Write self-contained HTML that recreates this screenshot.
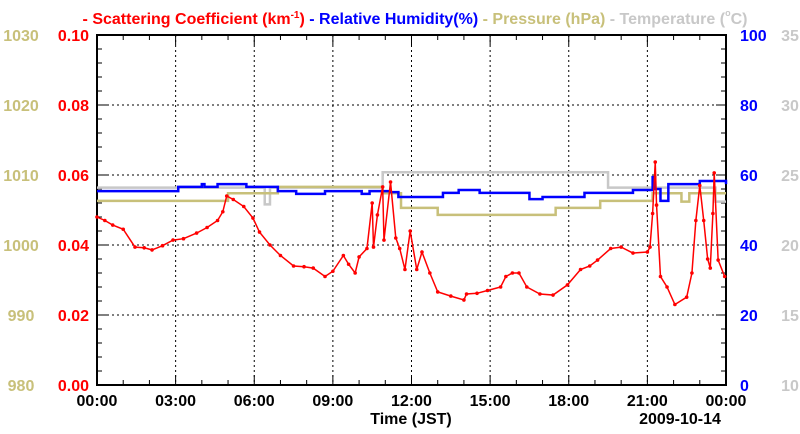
<!DOCTYPE html>
<html><head><meta charset="utf-8"><style>
body{margin:0;background:#fff}
svg{display:block;font-family:"Liberation Sans",sans-serif;font-weight:bold}
</style></head><body>
<svg id="c" width="800" height="434" viewBox="0 0 800 434"></svg>
<script>
const xTicks=["00:00","03:00","06:00","09:00","12:00","15:00","18:00","21:00","00:00"];
const scatHours=[0,0.3,0.6,1.0,1.45,1.8,2.1,2.5,2.9,3.3,3.8,4.2,4.6,4.8,4.95,5.2,5.6,5.95,6.2,6.6,7.0,7.5,7.9,8.25,8.7,9.0,9.4,9.6,9.85,10.0,10.3,10.5,10.55,10.7,10.9,10.95,11.2,11.4,11.55,11.75,11.95,12.2,12.4,12.7,13.0,13.5,14.0,14.1,14.5,14.9,15.4,15.6,15.85,16.1,16.4,16.9,17.4,17.95,18.45,18.8,19.1,19.6,20.0,20.45,21.0,21.1,21.2,21.3,21.35,21.5,21.75,22.05,22.5,22.7,22.85,23.0,23.15,23.3,23.4,23.5,23.55,23.7,23.95];
const scatValues=[0.048,0.047,0.0457,0.0445,0.0394,0.0392,0.0386,0.0398,0.0414,0.0418,0.0434,0.045,0.047,0.0495,0.054,0.053,0.051,0.0477,0.0437,0.040,0.037,0.034,0.0338,0.0334,0.031,0.0325,0.037,0.0345,0.032,0.0366,0.039,0.052,0.0394,0.0486,0.0566,0.0414,0.058,0.042,0.039,0.033,0.044,0.033,0.038,0.032,0.0266,0.0254,0.0243,0.026,0.0262,0.027,0.028,0.031,0.032,0.032,0.028,0.026,0.0257,0.0286,0.033,0.034,0.0357,0.039,0.0394,0.0377,0.038,0.0394,0.049,0.0637,0.0514,0.031,0.028,0.023,0.0251,0.032,0.047,0.057,0.047,0.036,0.0334,0.049,0.0606,0.0357,0.031];
const rhHours=[0,3.1,4.0,4.1,4.6,5.7,6.9,7.6,8.7,10.1,10.4,11.2,11.5,13.2,13.8,14.6,16.5,17.0,18.6,20.45,21.2,21.3,21.5,21.8,23.0,24];
const rhValues=[55.4,56.6,57.4,56.6,57.4,56.6,55.4,54.6,55.4,54.6,55.4,55.1,53.7,54.9,55.7,54.9,53.1,53.7,54.9,55.7,59.4,56,52.6,57.4,58.3,57.4];
const presHours=[0,5.0,6.9,10.9,11.6,13.0,17.5,19.2,21.2,22.3,22.6,24];
const presValues=[1006.3,1007.4,1008.3,1007.4,1005.3,1004.3,1005.3,1006.3,1007.4,1006.2,1007.4,1007.4];
const tempHours=[0,6.4,6.6,10.9,19.5,23.6,24];
const tempValues=[24.1,22.9,24.1,25.2,24.1,23.1,23.1];
const yTicks=["0.00","0.02","0.04","0.06","0.08","0.10"];
const presTicks=["980","990","1000","1010","1020","1030"];
const rhTicks=["0","20","40","60","80","100"];
const tempTicks=["10","15","20","25","30","35"];

const L=97,R=726,T=35,B=385,NS="http://www.w3.org/2000/svg",svg=document.getElementById('c');
const X=h=>L+h/24*(R-L);
const Ys=v=>B-v/0.1*(B-T), Yrh=v=>B-v/100*(B-T), Yp=v=>B-(v-980)/50*(B-T), Yt=v=>B-(v-10)/25*(B-T);
function el(t,a,p){const e=document.createElementNS(NS,t);for(const k in a)e.setAttribute(k,a[k]);(p||svg).appendChild(e);return e;}
function txt(s,x,y,fill,anchor,size){const e=el('text',{x,y,fill,'text-anchor':anchor||'middle','font-size':size||16});e.textContent=s;return e;}
for(let i=1;i<8;i++){const g=el('line',{x1:X(i*3),x2:X(i*3),y1:T,y2:B,stroke:'#000','stroke-dasharray':'2,3','stroke-width':1});

}
for(let i=1;i<5;i++){const g=el('line',{x1:L,x2:R,y1:Ys(i*0.02),y2:Ys(i*0.02),stroke:'#000','stroke-dasharray':'2,3','stroke-width':1});

}
for(let i=0;i<=25;i++){const y=B-i*(B-T)/25,len=i%5==0?10:5;
el('line',{x1:L,x2:L+len,y1:y,y2:y,stroke:'#000'});el('line',{x1:R,x2:R-len,y1:y,y2:y,stroke:'#000'});}
for(let i=0;i<=24;i++){const len=i%3==0?10:5;el('line',{x1:X(i),x2:X(i),y1:B,y2:B-len,stroke:'#000'});el('line',{x1:X(i),x2:X(i),y1:T,y2:T+len,stroke:'#000'});}
const fr=el('rect',{x:L,y:T,width:R-L,height:B-T,fill:'none',stroke:'#000','stroke-width':2});


function step(hs,vs,Y,color,name){let d='';for(let i=0;i<hs.length;i++){const x=X(hs[i]),y=Y(vs[i]);if(i==0)d='M'+x+','+y;else d+=' H'+x+' V'+y;}d+=' H'+X(24);
const p=el('path',{d,fill:'none',stroke:color,'stroke-width':2.5});

}
step(tempHours,tempValues,Yt,'#c8c8c8','temperature-line');
step(presHours,presValues,Yp,'#c8c07a','pressure-line');
step(rhHours,rhValues,Yrh,'#0000ff','humidity-line');
const sp=el('polyline',{points:scatHours.map((h,i)=>X(h)+','+Ys(scatValues[i])).join(' '),fill:'none',stroke:'#ff0000','stroke-width':1.5});


scatHours.forEach((h,i)=>{const c=el('circle',{cx:X(h),cy:Ys(scatValues[i]),r:1.8,fill:'#ff0000'});

});
for(let i=0;i<6;i++){const y=B-i*(B-T)/5+6;
let t=txt(yTicks[i],89,y,'#ff0000','end');
t=txt(presTicks[i],21,y,'#c8c07a','middle');
t=txt(rhTicks[i],740,y,'#0000ff','start');
t=txt(tempTicks[i],790,y,'#c8c8c8','middle');}
xTicks.forEach((s,i)=>{const t=txt(s,X(i*3),406,'#000');});
let t=txt('Time (JST)',411,424,'#000');
t=txt('2009-10-14',680,424,'#000');
const lg=el('text',{x:415,y:24,'text-anchor':'middle','font-size':16});


lg.innerHTML='<tspan fill="#ff0000">- Scattering Coefficient (km<tspan dy="-6" font-size="10">-1</tspan><tspan dy="6">) </tspan></tspan><tspan fill="#0000ff">- Relative Humidity(%) </tspan><tspan fill="#c8c07a">- Pressure (hPa) </tspan><tspan fill="#c8c8c8">- Temperature (<tspan dy="-8" font-size="9">o</tspan><tspan dy="8">C)</tspan></tspan>';
</script>
</body></html>
